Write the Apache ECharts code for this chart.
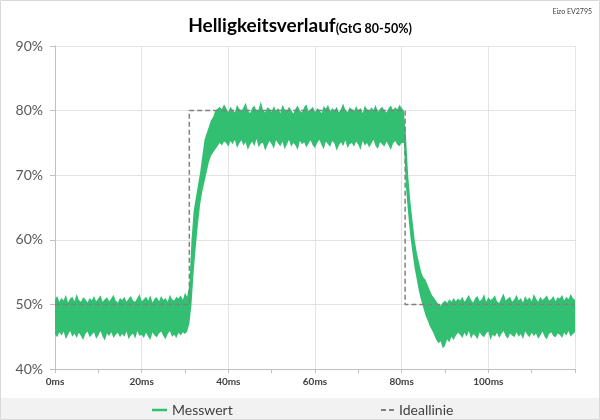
<!DOCTYPE html>
<html>
<head>
<meta charset="utf-8">
<script src="https://cdn.jsdelivr.net/npm/echarts@6/dist/echarts.min.js"></script>
<style>
html,body{margin:0;padding:0;background:#fff;}
#chart{width:600px;height:420px;}
</style>
</head>
<body>
<div id="chart"></div>
<script>
// ---- Data ----
// Sampling step of the envelope arrays, in ms
var stepMs = 0.5;
var xTicks = [0, 20, 40, 60, 80, 100, 120];
var yTicks = [40, 50, 60, 70, 80, 90];

// Measured signal: noise band (upper / lower envelope, %), per segment
// Baseline 0 .. 30.5 ms
var baseUpper = [
50.8,51.3,50.4,51.0,50.6,51.5,50.3,50.9,51.2,50.5,
51.6,50.7,50.4,51.1,50.8,50.3,51.0,50.6,51.3,50.5,
50.9,51.4,50.4,50.8,51.1,50.5,50.9,51.5,50.6,50.3,
51.0,50.7,51.2,50.4,50.9,51.3,50.6,50.4,51.0,51.6,
50.5,50.8,51.2,50.6,51.4,50.3,50.9,51.1,50.5,51.3,
50.7,51.0,50.4,51.5,50.8,50.6,51.2,50.9,51.4,50.7,
51.8,51.2];
var baseLower = [
45.4,44.9,45.7,45.2,45.8,44.6,45.3,45.9,45.0,45.5,
44.8,45.6,45.1,44.5,45.4,45.8,44.9,45.3,45.7,44.7,
45.2,45.9,45.0,44.4,45.5,45.1,45.7,44.8,45.3,45.6,
44.9,45.4,45.0,45.8,44.6,45.2,45.5,44.7,45.9,45.1,
45.3,44.8,45.6,45.0,44.5,45.7,45.2,44.9,45.5,45.8,
45.1,44.6,45.4,45.9,45.0,45.3,44.8,45.6,45.2,45.7,
45.4,45.8];
// Rise 31.0 .. 39.0 ms
var riseUpper = [53,60,64.5,66.5,68.5,70.5,73,75.5,76.5,77.5,78.5,79,80,80.3,80.6,80.2,81.0];
var riseLower = [47,50,55,59,62.5,65.5,67.5,69,70.5,72,73,73.5,74,74.5,75,74.6,75.2];
// Plateau 39.5 .. 80.0 ms
var plateauUpper = [
80.4,79.8,80.6,80.1,79.7,80.9,80.3,79.9,80.5,81.2,
80.0,79.6,80.4,80.8,79.9,80.2,81.4,80.1,79.7,80.5,
80.3,79.8,80.7,80.0,80.4,79.6,80.9,80.2,79.9,80.6,
80.1,79.5,80.3,80.8,80.0,79.7,80.5,81.0,79.9,80.2,
80.6,79.8,80.4,80.1,79.6,80.7,80.3,80.9,79.9,80.4,
80.0,80.6,79.7,80.3,81.1,80.1,79.8,80.5,80.2,79.9,
80.7,80.0,80.4,79.6,80.8,80.2,79.9,80.5,80.1,80.9,
79.8,80.3,80.6,80.0,79.7,80.4,80.8,80.1,80.5,80.2,
80.9,80.4];
var plateauLower = [
75.0,74.4,75.3,74.8,75.5,74.2,74.9,75.4,74.6,75.1,
73.9,74.7,75.2,74.5,75.6,74.3,74.9,75.0,73.8,74.6,
75.3,74.8,74.1,75.4,74.9,74.5,75.2,74.0,74.7,75.5,
74.4,75.0,74.6,73.9,75.3,74.8,75.1,74.3,74.9,75.4,
74.6,74.2,75.0,75.5,74.7,74.0,75.2,74.8,74.4,75.3,
74.9,73.8,74.6,75.1,74.5,75.4,74.2,74.8,75.0,74.4,
75.2,74.7,73.9,75.3,74.6,75.0,74.3,74.9,75.5,74.5,
74.1,75.1,74.8,74.4,75.2,74.6,73.9,74.9,75.3,74.7,
74.5,75.0];
// Fall 80.5 .. 93.0 ms
var fallUpper = [80.0,76.0,70.0,66.0,63.0,60.0,58.0,56.5,55.0,54.2,53.8,53.0,52.2,51.4,51.0,50.5,50.0,49.8,50.3,50.6,50.2,50.8,50.4,51.0,50.5,50.9];
var fallLower = [75.0,68.0,64.0,60.5,58.0,55.6,53.8,52.0,50.6,49.5,48.3,47.5,46.6,46.0,45.3,44.5,44.0,44.3,43.2,43.6,44.6,44.1,45.0,44.5,45.2,45.6];
// Tail 93.5 .. 120 ms
var tailUpper = [
50.6,51.2,50.4,50.9,51.5,50.7,50.3,51.0,51.3,50.5,
50.8,51.6,50.4,51.1,50.7,50.9,51.4,50.5,50.2,51.0,
51.7,50.6,50.9,51.2,50.4,50.8,51.5,50.6,51.0,50.3,
51.3,50.7,51.1,50.5,51.6,50.9,50.4,51.2,50.7,51.0,
51.4,50.6,50.8,51.3,50.5,51.1,50.9,51.5,50.6,51.2,
50.8,51.6,51.0,50.7];
var tailLower = [
45.3,44.8,45.6,45.0,45.9,44.7,45.4,45.1,44.6,45.7,
45.2,44.9,45.5,45.8,44.5,45.3,45.0,45.6,44.8,45.4,
45.9,45.1,44.7,45.5,45.2,44.9,45.7,45.0,45.4,44.6,
45.8,45.3,44.9,45.6,45.1,45.5,44.7,45.2,45.8,45.0,
44.6,45.4,45.7,45.1,44.9,45.5,45.3,44.8,45.6,45.2,
45.9,45.0,45.4,45.7];

// Ideal line (ms, %)
var idealTime  = [0, 31.0, 31.0, 80.8, 80.8, 120];
var idealValue = [50, 50, 80, 80, 50, 50];

// ---- Build series data ----
var upper = [].concat(baseUpper, riseUpper, plateauUpper, fallUpper, tailUpper);
var lower = [].concat(baseLower, riseLower, plateauLower, fallLower, tailLower);
var times = upper.map(function (v, i) { return i * stepMs; });
var bandData = times.map(function (t, i) { return [t, lower[i], upper[i]]; });
var idealData = idealTime.map(function (t, k) { return [t, idealValue[k]]; });

var green = '#33bf72';

// Filled band between the envelopes, positioned with the axes' own scale (api.coord)
function renderBand(params, api) {
  if (params.dataIndex !== 0) return null;
  var pts = [];
  for (var i = 0; i < bandData.length; i++) pts.push(api.coord([bandData[i][0], bandData[i][2]]));
  for (var j = bandData.length - 1; j >= 0; j--) pts.push(api.coord([bandData[j][0], bandData[j][1]]));
  return {
    type: 'polygon',
    shape: {points: pts},
    style: {fill: green, stroke: null, lineWidth: 0}
  };
}

var chart = echarts.init(document.getElementById('chart'), null, {renderer: 'canvas'});
chart.setOption({
  animation: false,
  backgroundColor: '#ffffff',
  textStyle: {fontFamily: 'Lato, "Open Sans", sans-serif'},
  title: [{
    text: '{a|Helligkeitsverlauf}{b|(GtG 80-50%)}',
    left: 'center',
    top: 4,
    textStyle: {
      rich: {
        a: {fontFamily: 'Lato', fontWeight: 'bold', fontSize: 19, color: '#000000', verticalAlign: 'bottom', lineHeight: 26},
        b: {fontFamily: 'Lato', fontWeight: 'bold', fontSize: 12.5, color: '#000000', verticalAlign: 'bottom', lineHeight: 22}
      }
    }
  }, {
    text: 'Eizo EV2795',
    right: 3,
    top: 3,
    textStyle: {fontFamily: 'Lato', fontSize: 7, fontWeight: 'normal', color: '#404040'}
  }],
  graphic: [{
    type: 'rect',
    z: 0,
    shape: {x: 0, y: 398, width: 600, height: 22},
    style: {fill: '#f2f2f2'},
    silent: true
  }, {
    type: 'rect',
    z: 0,
    shape: {x: 0.5, y: 0.5, width: 599, height: 419},
    style: {fill: null, stroke: '#d9d9d9', lineWidth: 1},
    silent: true
  }],
  legend: [{
    data: [{name: 'Messwert', icon: 'rect'}],
    left: 147,
    top: 398,
    itemWidth: 15,
    itemHeight: 2.5,
    itemStyle: {color: green},
    textStyle: {fontFamily: 'Lato', fontSize: 14, color: '#404040'}
  }, {
    data: [{name: 'Ideallinie', icon: 'path://M0,0h5v2h-5z M8,0h5v2h-5z'}],
    left: 376,
    top: 398,
    itemWidth: 13,
    itemHeight: 2,
    itemStyle: {color: '#808080'},
    textStyle: {fontFamily: 'Lato', fontSize: 14, color: '#404040'}
  }],
  grid: {left: 55, right: 25, top: 46, bottom: 51, containLabel: false},
  xAxis: {
    type: 'value',
    min: xTicks[0],
    max: xTicks[xTicks.length - 1],
    interval: 20,
    axisLine: {show: true, lineStyle: {color: '#bfbfbf', width: 1}},
    axisTick: {show: true, length: 4, lineStyle: {color: '#bfbfbf'}},
    minorTick: {show: true, splitNumber: 2, length: 4, lineStyle: {color: '#bfbfbf'}},
    splitLine: {show: true, lineStyle: {color: '#e3e3e3', width: 1}},
    axisLabel: {
      fontFamily: 'Lato', fontSize: 10, fontWeight: 'bold', color: '#404040', margin: 8,
      formatter: function (v) { return v >= 120 ? '' : v + 'ms'; }
    }
  },
  yAxis: {
    type: 'value',
    min: yTicks[0],
    max: yTicks[yTicks.length - 1],
    interval: 10,
    axisLine: {show: true, lineStyle: {color: '#bfbfbf', width: 1}},
    axisTick: {show: true, length: 5, lineStyle: {color: '#bfbfbf'}},
    splitLine: {show: true, lineStyle: {color: '#e3e3e3', width: 1}},
    axisLabel: {fontFamily: 'Lato', fontSize: 14, color: '#595959', margin: 12, formatter: '{value}%'}
  },
  series: [{
    name: 'Messwert',
    type: 'custom',
    data: bandData,
    encode: {x: 0, y: [1, 2]},
    renderItem: renderBand,
    itemStyle: {color: green},
    clip: true,
    silent: true,
    z: 2
  }, {
    name: 'Ideallinie',
    type: 'line',
    data: idealData,
    symbol: 'none',
    color: '#808080',
    lineStyle: {width: 1.5, type: [5, 3], color: '#808080'},
    z: 5
  }]
});
</script>
</body>
</html>
